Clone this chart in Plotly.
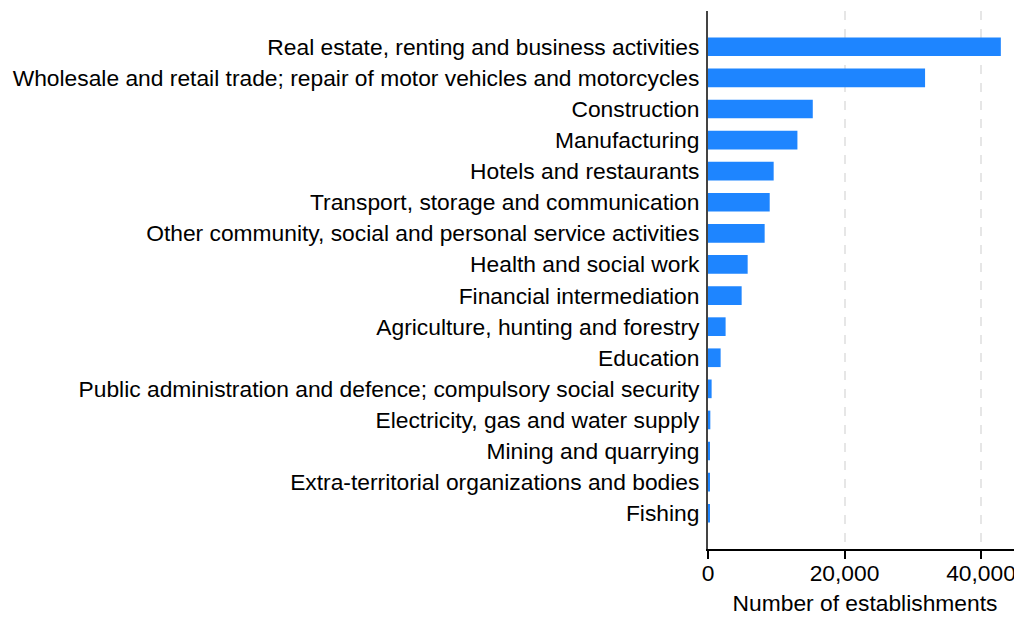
import plotly.graph_objects as go

categories = [
    "Real estate, renting and business activities",
    "Wholesale and retail trade; repair of motor vehicles and motorcycles",
    "Construction",
    "Manufacturing",
    "Hotels and restaurants",
    "Transport, storage and communication",
    "Other community, social and personal service activities",
    "Health and social work",
    "Financial intermediation",
    "Agriculture, hunting and forestry",
    "Education",
    "Public administration and defence; compulsory social security",
    "Electricity, gas and water supply",
    "Mining and quarrying",
    "Extra-territorial organizations and bodies",
    "Fishing",
]
establishments = [42900, 31800, 15350, 13100, 9620, 9040, 8300, 5810, 4930, 2580, 1850, 530, 340, 200, 150, 150]
tick_vals = [0, 20000, 40000]
tick_text = ["0", "20,000", "40,000"]

FONT = "Liberation Sans, Arial, sans-serif"

fig = go.Figure(go.Bar(
    x=establishments, y=categories, orientation="h",
    marker=dict(color="#1e85ff", line=dict(width=0)), width=0.6,
))

fig.update_layout(
    width=1014, height=609,
    margin=dict(l=700, r=0, t=3, b=68, autoexpand=False),
    plot_bgcolor="white", paper_bgcolor="white",
    font=dict(family=FONT, size=22.8, color="black"),
    showlegend=False,
)
fig.update_xaxes(
    range=[0, 46000], tickvals=tick_vals, ticktext=tick_text,
    tickfont=dict(family=FONT, size=22.8, color="black"),
    showgrid=True, gridcolor="#e6e6e6", griddash="dash", gridwidth=1.5,
    zeroline=False, showline=True, linecolor="black", linewidth=1.5,
    ticks="outside", ticklen=8, tickcolor="black", tickwidth=1.5,
    ticklabelstandoff=-5,
    title=dict(text="Number of establishments", standoff=10,
               font=dict(family=FONT, size=22.8, color="black")),
    automargin=False,
)
fig.update_yaxes(
    categoryorder="array", categoryarray=categories,
    range=[16.15, -1.15], showgrid=False, zeroline=False,
    showline=True, linecolor="#444444", linewidth=2,
    ticks="outside", ticklen=2, tickcolor="rgba(0,0,0,0)",
    tickfont=dict(family=FONT, size=22.8, color="black"),
    automargin=False,
)

fig.write_html("out.html")
